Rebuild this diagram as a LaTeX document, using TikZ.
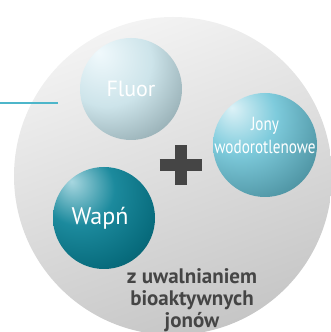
\documentclass[tikz,border=0pt]{standalone}
\usepackage{fontspec}
\setmainfont{PT Sans}
\newfontfamily\waskie[FakeStretch=0.8]{PT Sans}
\usetikzlibrary{positioning}

\definecolor{tloA}{HTML}{F3F3F3}
\definecolor{tloB}{HTML}{C6C6C6}
\definecolor{liniaK}{HTML}{4DB6CA}
\definecolor{napisK}{HTML}{454545}
%% shading for the three balls
\definecolor{fA}{HTML}{F0F9FC}
\definecolor{fB}{HTML}{CDE4EA}
\definecolor{fC}{HTML}{97AFB5}
\definecolor{fD}{HTML}{6A8287}
\definecolor{jA}{HTML}{DDF2F7}
\definecolor{jB}{HTML}{7ECBDC}
\definecolor{jC}{HTML}{5197A6}
\definecolor{jD}{HTML}{3D6F7A}
\definecolor{wA}{HTML}{A8D7E0}
\definecolor{wB}{HTML}{1C8A9D}
\definecolor{wC}{HTML}{086C7D}
\definecolor{wD}{HTML}{04434F}
\pgfdeclareradialshading{fluorkula}{\pgfpoint{-16bp}{18bp}}{color(0bp)=(fA); color(22bp)=(fB); color(40bp)=(fC); color(54bp)=(fD); color(90bp)=(fD)}
\pgfdeclareradialshading{jonykula}{\pgfpoint{-16bp}{18bp}}{color(0bp)=(jA); color(18bp)=(jB); color(38bp)=(jC); color(56bp)=(jD); color(90bp)=(jD)}
\pgfdeclareradialshading{wapnkula}{\pgfpoint{-16bp}{18bp}}{color(0bp)=(wA); color(18bp)=(wB); color(36bp)=(wC); color(56bp)=(wD); color(90bp)=(wD)}

\begin{document}
\begin{tikzpicture}[x=1pt,y=1pt,
kula/.style={circle, minimum size=#1, inner sep=0pt, text=white, align=center},
plusik/.style={napisK, line width=12pt},
linia/.style={liniaK, line width=2pt},
]
\useasboundingbox (0,0) rectangle (331,332);
%% big background ball
\node[circle, minimum size=318pt, inner sep=0pt, top color=tloA, bottom color=tloB, shading angle=20] (tlo) at (173,156) {};
%%% 
%% Line
\coordinate (start) at (0,229);
\coordinate (koniec) at (58,229);
\draw[linia] (start) -- (koniec);
%% Balls
\node[kula=102pt, shading=fluorkula, font=\fontsize{22}{24}\selectfont] (fluor) at (131,243) {Fluor};
\node[kula=104pt, shading=jonykula, font=\waskie\fontsize{19}{23}\selectfont] (jony) at (265,187) {\makebox[0pt]{Jony}\\\makebox[0pt]{wodorotlenowe}\\[-4pt]};
\node[kula=102pt, shading=wapnkula, font=\fontsize{24}{26}\selectfont] (wapn) at (104,114) {\makebox[0pt]{Wapń\hspace*{8pt}}};
%% Plus
\coordinate (plus) at (180.5,167);
\draw[plusik] ([xshift=-21pt]plus) -- ([xshift=21pt]plus);
\draw[plusik] ([yshift=-20pt]plus) -- ([yshift=20pt]plus);
%% Text
\node[font=\bfseries\fontsize{21}{22}\selectfont, text=napisK, align=center] (opis) at (192,32) {z uwalnianiem\\bioaktywnych\\jonów};
\end{tikzpicture}
\end{document}
